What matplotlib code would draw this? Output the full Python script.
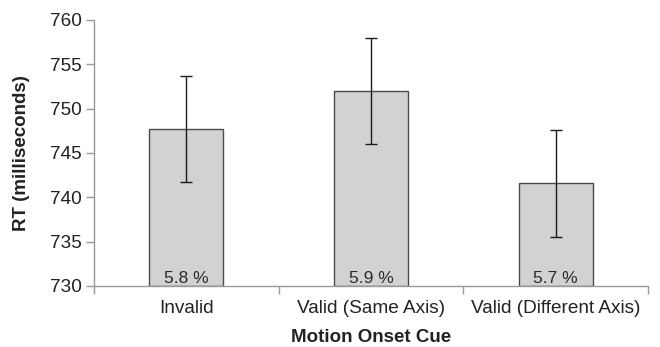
import matplotlib
matplotlib.use("Agg")
import matplotlib.pyplot as plt
import numpy as np

categories = ["Invalid", "Valid (Same Axis)", "Valid (Different Axis)"]
rt_means = [747.7, 752.0, 741.6]
rt_errors = [6.0, 6.0, 6.05]
error_rates = ["5.8 %", "5.9 %", "5.7 %"]
y_ticks = [730, 735, 740, 745, 750, 755, 760]

plt.rcParams['font.family'] = ['Liberation Sans', 'DejaVu Sans']

fig = plt.figure(figsize=(6.6, 3.47), dpi=100)
ax = fig.add_axes([94/660, 1-286/347, (648-94)/660, (286-20)/347])

x = np.arange(len(categories))
ax.bar(x, [m - 730 for m in rt_means], bottom=730, width=0.40, color="#d1d2d1",
       edgecolor="#4a4a4a", linewidth=1.0, zorder=2)
ax.errorbar(x, rt_means, yerr=rt_errors, fmt="none", ecolor="#1a1a1a",
            elinewidth=1.0, capsize=4, capthick=1.0, zorder=3)
for xi, lab in zip(x, error_rates):
    ax.text(xi, 730.9, lab, ha="center", va="center", fontsize=12.5,
            color="#2a2a2a", zorder=4)

ax.set_xlim(-0.5, len(categories) - 0.5)
ax.set_ylim(730, 760)
ax.set_yticks(y_ticks)
ax.set_yticklabels([str(t) for t in y_ticks], fontsize=13.7, color="#222222")
ax.set_xticks(x)
ax.set_xticklabels(categories, fontsize=13.7, color="#222222")
ax.tick_params(axis="x", length=0, pad=10)
ax.set_xticks(np.arange(-0.5, len(categories)), minor=True)
ax.tick_params(axis="x", which="minor", length=6, color="#999999", width=1)
ax.tick_params(axis="y", length=6, color="#999999", width=1, pad=3)

for s in ["top", "right"]:
    ax.spines[s].set_visible(False)
for s in ["left", "bottom"]:
    ax.spines[s].set_color("#999999")
    ax.spines[s].set_linewidth(1.0)

ax.set_xlabel("Motion Onset Cue", fontsize=13.5, fontweight="bold", color="#222222", labelpad=9)
ax.set_ylabel("RT (milliseconds)", fontsize=13.5, fontweight="bold", color="#222222", labelpad=14)

fig.savefig("out.png", dpi=100)
